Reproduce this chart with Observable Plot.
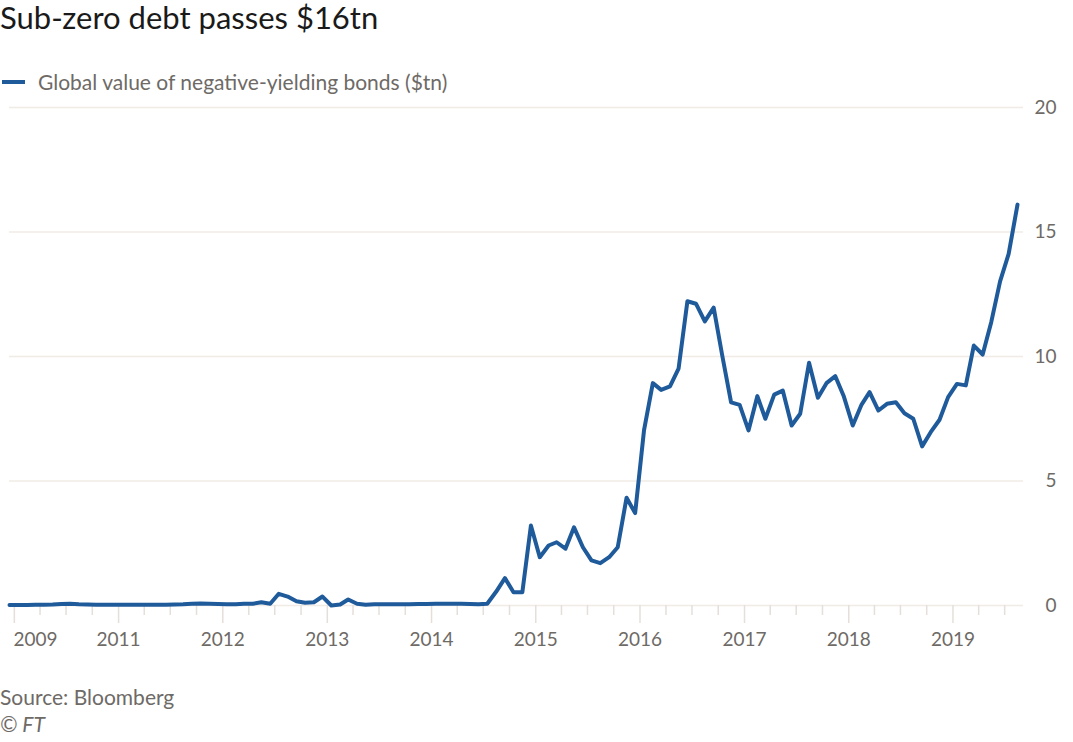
<!DOCTYPE html>
<html>
<head>
<meta charset="utf-8">
<script src="https://cdn.jsdelivr.net/npm/d3@7"></script>
<script src="https://cdn.jsdelivr.net/npm/@observablehq/plot@0.6"></script>
<style>
  html, body { margin: 0; padding: 0; background: #ffffff; }
  body { width: 1073px; height: 742px; position: relative; overflow: hidden; font-family: Lato, "Open Sans", sans-serif; }
  #title { position: absolute; left: 0; top: 0px; font-size: 31px; line-height: 34px; color: #1a1a1a; white-space: nowrap; }
  #legend { position: absolute; left: 2px; top: 69px; font-size: 21px; line-height: 26px; color: #6e6a66; display: flex; align-items: center; white-space: nowrap; }
  #legend .sw { width: 23px; height: 4px; background: #1f5a9a; margin-right: 13px; }
  #chart { position: absolute; left: 0; top: 95px; }
  #source { position: absolute; left: 0; top: 684px; font-size: 21px; color: #6e6a66; }
  #copy { position: absolute; left: 0; top: 711px; font-size: 21px; color: #6e6a66; font-style: italic; }
</style>
</head>
<body>
<div id="title">Sub-zero debt passes $16tn</div>
<div id="legend"><div class="sw"></div><span>Global value of negative-yielding bonds ($tn)</span></div>
<div id="chart"></div>
<div id="source">Source: Bloomberg</div>
<div id="copy">© FT</div>
<script>
// Monthly observations (YYYY-MM), values in $tn
const months = [
  "2009-12",
  "2010-01","2010-02","2010-03","2010-04","2010-05","2010-06","2010-07","2010-08","2010-09","2010-10","2010-11","2010-12",
  "2011-01","2011-02","2011-03","2011-04","2011-05","2011-06","2011-07","2011-08","2011-09","2011-10","2011-11","2011-12",
  "2012-01","2012-02","2012-03","2012-04","2012-05","2012-06","2012-07","2012-08","2012-09","2012-10","2012-11","2012-12",
  "2013-01","2013-02","2013-03","2013-04","2013-05","2013-06","2013-07","2013-08","2013-09","2013-10","2013-11","2013-12",
  "2014-01","2014-02","2014-03","2014-04","2014-05","2014-06","2014-07","2014-08","2014-09","2014-10","2014-11","2014-12",
  "2015-01","2015-02","2015-03","2015-04","2015-05","2015-06","2015-07","2015-08","2015-09","2015-10","2015-11","2015-12",
  "2016-01","2016-02","2016-03","2016-04","2016-05","2016-06","2016-07","2016-08","2016-09","2016-10","2016-11","2016-12",
  "2017-01","2017-02","2017-03","2017-04","2017-05","2017-06","2017-07","2017-08","2017-09","2017-10","2017-11","2017-12",
  "2018-01","2018-02","2018-03","2018-04","2018-05","2018-06","2018-07","2018-08","2018-09","2018-10","2018-11","2018-12",
  "2019-01","2019-02","2019-03","2019-04","2019-05","2019-06","2019-07","2019-08"
];
const values = [
  0.02,
  0.02,0.02,0.03,0.03,0.04,0.06,0.07,0.05,0.04,0.03,0.03,0.03,
  0.03,0.03,0.03,0.03,0.03,0.03,0.04,0.05,0.07,0.08,0.07,0.06,
  0.05,0.05,0.07,0.07,0.13,0.07,0.47,0.36,0.17,0.11,0.13,0.36,
  0.00,0.04,0.24,0.07,0.03,0.05,0.05,0.05,0.05,0.05,0.06,0.06,
  0.07,0.07,0.07,0.07,0.06,0.05,0.07,0.55,1.10,0.53,0.53,3.21,
  1.94,2.41,2.54,2.28,3.14,2.34,1.81,1.70,1.94,2.34,4.33,3.71,
  7.03,8.93,8.66,8.80,9.51,12.22,12.12,11.41,11.96,10.04,8.16,8.06,
  7.03,8.41,7.50,8.47,8.63,7.23,7.70,9.75,8.34,8.93,9.21,8.39,
  7.23,8.07,8.57,7.83,8.10,8.16,7.72,7.50,6.39,6.96,7.46,8.37,
  8.90,8.84,10.44,10.08,11.38,13.02,14.12,16.10
];
const yTicks = [0, 5, 10, 15, 20];
const yearTicks = [2010, 2011, 2012, 2013, 2014, 2015, 2016, 2017, 2018, 2019];
const yearLabels = ["2011", "2012", "2013", "2014", "2015", "2016", "2017", "2018", "2019"];
const firstLabel = "2009";

const data = months.map((m, i) => {
  const [yy, mm] = m.split("-").map(Number);
  return { date: new Date(Date.UTC(yy, mm - 1, 15)), value: values[i] };
});
const domain = [new Date(Date.UTC(2009, 11, 15)), new Date(Date.UTC(2019, 8, 5))];
const yearDates = yearTicks.map(y => new Date(Date.UTC(y, 0, 1)));
const quarterDates = [];
for (const y of yearTicks) for (const q of [3, 6, 9]) {
  const d = new Date(Date.UTC(y, q, 1));
  if (d < domain[1]) quarterDates.push(d);
}
const labelDates = yearLabels.map(s => new Date(Date.UTC(+s, 0, 1)));
const labelMap = new Map(labelDates.map((d, i) => [+d, yearLabels[i]]));

const textColor = "#6e6a66";
const tickColor = "#e4dfdb";

const plot = Plot.plot({
  width: 1073,
  height: 565,
  marginTop: 12,
  marginBottom: 55,
  marginLeft: 9,
  marginRight: 50,
  style: { fontFamily: "Lato, 'Open Sans', sans-serif", background: "transparent", overflow: "visible" },
  x: { type: "utc", domain, label: null },
  y: { domain: [0, 20], label: null },
  marks: [
    Plot.gridY(yTicks, { stroke: "#f1ebe6", strokeOpacity: 1, strokeWidth: 1.5 }),
    Plot.axisY(yTicks, { anchor: "right", label: null, tickSize: 0, tickPadding: 0, dx: 33, textAnchor: "end", fontSize: 19, fill: textColor }),
    Plot.axisX(quarterDates, { label: null, tickSize: 10, stroke: tickColor, strokeWidth: 1.5, tickFormat: () => "" }),
    Plot.axisX(yearDates, { label: null, tickSize: 18, stroke: tickColor, strokeWidth: 1.5, tickFormat: () => "" }),
    Plot.axisX(labelDates, { label: null, tickSize: 0, tickPadding: 27, tickFormat: d => labelMap.get(+d), fontSize: 19, fill: textColor }),
    Plot.text([firstLabel], { x: () => domain[0], y: () => 0, text: d => d, textAnchor: "start", dx: 4, dy: 34, fontSize: 19, fill: textColor }),
    Plot.lineY(data, { x: "date", y: "value", stroke: "#1f5a9a", strokeWidth: 4, strokeLinejoin: "round", strokeLinecap: "round" })
  ]
});
document.getElementById("chart").appendChild(plot);
</script>
</body>
</html>
